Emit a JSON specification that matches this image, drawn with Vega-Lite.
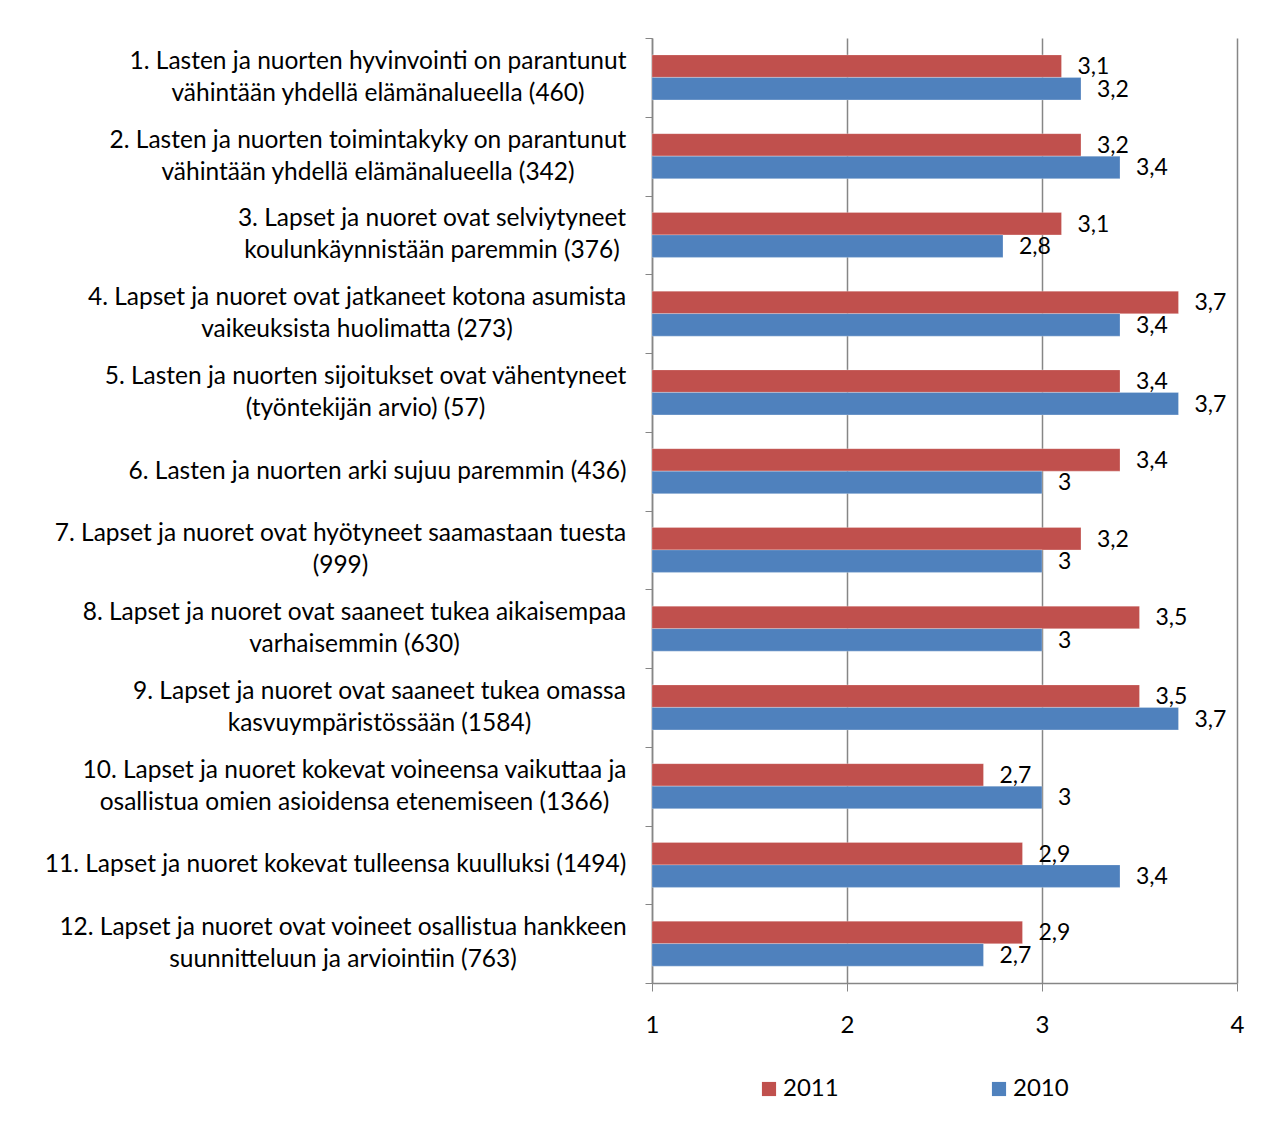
{
  "$schema": "https://vega.github.io/schema/vega-lite/v6.json",
  "autosize": {"type": "none"},
  "padding": {"left": 652, "top": 38, "right": 38, "bottom": 141},
  "width": 585,
  "height": 945,
  "background": "white",
  "config": {
    "locale": {"number": {"decimal": ",", "thousands": " ", "grouping": [3], "currency": ["", " €"]}},
    "font": "Lato",
    "view": {"stroke": null},
    "axis": {"labelFont": "Lato", "labelColor": "black", "domainColor": "#868686", "tickColor": "#868686", "gridColor": "#868686"}
  },
  "data": {
    "values": [
      {"cat": "1. Lasten ja nuorten hyvinvointi on parantunut|vähintään yhdellä elämänalueella (460)", "year": "2011", "value": 3.1},
      {"cat": "1. Lasten ja nuorten hyvinvointi on parantunut|vähintään yhdellä elämänalueella (460)", "year": "2010", "value": 3.2},
      {"cat": "2. Lasten ja nuorten toimintakyky on parantunut|vähintään yhdellä elämänalueella (342)", "year": "2011", "value": 3.2},
      {"cat": "2. Lasten ja nuorten toimintakyky on parantunut|vähintään yhdellä elämänalueella (342)", "year": "2010", "value": 3.4},
      {"cat": "3. Lapset ja nuoret ovat selviytyneet|koulunkäynnistään paremmin (376)", "year": "2011", "value": 3.1},
      {"cat": "3. Lapset ja nuoret ovat selviytyneet|koulunkäynnistään paremmin (376)", "year": "2010", "value": 2.8},
      {"cat": "4. Lapset ja nuoret ovat jatkaneet kotona asumista|vaikeuksista huolimatta (273)", "year": "2011", "value": 3.7},
      {"cat": "4. Lapset ja nuoret ovat jatkaneet kotona asumista|vaikeuksista huolimatta (273)", "year": "2010", "value": 3.4},
      {"cat": "5. Lasten ja nuorten sijoitukset ovat vähentyneet|(työntekijän arvio) (57)", "year": "2011", "value": 3.4},
      {"cat": "5. Lasten ja nuorten sijoitukset ovat vähentyneet|(työntekijän arvio) (57)", "year": "2010", "value": 3.7},
      {"cat": "6. Lasten ja nuorten arki sujuu paremmin (436)", "year": "2011", "value": 3.4},
      {"cat": "6. Lasten ja nuorten arki sujuu paremmin (436)", "year": "2010", "value": 3.0},
      {"cat": "7. Lapset ja nuoret ovat hyötyneet saamastaan tuesta|(999)", "year": "2011", "value": 3.2},
      {"cat": "7. Lapset ja nuoret ovat hyötyneet saamastaan tuesta|(999)", "year": "2010", "value": 3.0},
      {"cat": "8. Lapset ja nuoret ovat saaneet tukea aikaisempaa|varhaisemmin (630)", "year": "2011", "value": 3.5},
      {"cat": "8. Lapset ja nuoret ovat saaneet tukea aikaisempaa|varhaisemmin (630)", "year": "2010", "value": 3.0},
      {"cat": "9. Lapset ja nuoret ovat saaneet tukea omassa|kasvuympäristössään (1584)", "year": "2011", "value": 3.5},
      {"cat": "9. Lapset ja nuoret ovat saaneet tukea omassa|kasvuympäristössään (1584)", "year": "2010", "value": 3.7},
      {"cat": "10. Lapset ja nuoret kokevat voineensa vaikuttaa ja|osallistua omien asioidensa etenemiseen (1366)", "year": "2011", "value": 2.7},
      {"cat": "10. Lapset ja nuoret kokevat voineensa vaikuttaa ja|osallistua omien asioidensa etenemiseen (1366)", "year": "2010", "value": 3.0},
      {"cat": "11. Lapset ja nuoret kokevat tulleensa kuulluksi (1494)", "year": "2011", "value": 2.9},
      {"cat": "11. Lapset ja nuoret kokevat tulleensa kuulluksi (1494)", "year": "2010", "value": 3.4},
      {"cat": "12. Lapset ja nuoret ovat voineet osallistua hankkeen|suunnitteluun ja arviointiin (763)", "year": "2011", "value": 2.9},
      {"cat": "12. Lapset ja nuoret ovat voineet osallistua hankkeen|suunnitteluun ja arviointiin (763)", "year": "2010", "value": 2.7}
    ]
  },
  "encoding": {
    "y": {
      "field": "cat", "type": "nominal", "sort": null, "title": null,
      "scale": {"paddingInner": 0, "paddingOuter": 0},
      "axis": {
        "labelExpr": "datum.value ? split(datum.value, '|') : ''",
        "labelLimit": 700, "labelFontSize": 24.5, "labelLineHeight": 32,
        "tickSize": 7, "tickBand": "extent",
        "domainWidth": 1.5, "labelAlign": "center", "labelBaseline": "middle",
        "labelOffset": {"condition": {"test": "datum.value && indexof(datum.value, '|') >= 0", "value": -16}, "value": 0},
        "labelPadding": {
          "condition": [
            {"test": "datum.value && slice(datum.value, 0, 3) == '1. '", "value": 267.5},
            {"test": "datum.value && slice(datum.value, 0, 3) == '2. '", "value": 277.5},
            {"test": "datum.value && slice(datum.value, 0, 3) == '3. '", "value": 213.5},
            {"test": "datum.value && slice(datum.value, 0, 3) == '4. '", "value": 288.5},
            {"test": "datum.value && slice(datum.value, 0, 3) == '5. '", "value": 280},
            {"test": "datum.value && slice(datum.value, 0, 3) == '6. '", "value": 268},
            {"test": "datum.value && slice(datum.value, 0, 3) == '7. '", "value": 305},
            {"test": "datum.value && slice(datum.value, 0, 3) == '8. '", "value": 291},
            {"test": "datum.value && slice(datum.value, 0, 3) == '9. '", "value": 266},
            {"test": "datum.value && slice(datum.value, 0, 3) == '10.'", "value": 291},
            {"test": "datum.value && slice(datum.value, 0, 3) == '11.'", "value": 310},
            {"test": "datum.value && slice(datum.value, 0, 3) == '12.'", "value": 302.5}
          ],
          "value": 19
        }
      }
    },
    "yOffset": {"field": "year", "type": "nominal", "sort": ["2011", "2010"], "scale": {"paddingInner": 0, "paddingOuter": 0.75}},
    "x": {
      "field": "value", "type": "quantitative", "title": null,
      "scale": {"domain": [1, 4], "nice": false, "zero": false},
      "axis": {
        "values": [1, 2, 3, 4], "grid": true, "gridWidth": 1.5, "domainWidth": 1.5,
        "tickSize": 8, "labelPadding": 22, "labelFontSize": 24, "format": "d", "labelFlush": false
      }
    }
  },
  "layer": [
    {
      "mark": {"type": "bar", "stroke": "white", "strokeWidth": 0.5, "strokeOpacity": 0.5},
      "encoding": {
        "x2": {"datum": 1},
        "color": {
          "field": "year", "type": "nominal", "sort": ["2011", "2010"],
          "scale": {"domain": ["2011", "2010"], "range": ["#C0504D", "#4F81BD"]},
          "legend": {
            "title": null, "orient": "none", "direction": "horizontal",
            "legendX": 105, "legendY": 1039,
            "symbolType": "square", "symbolSize": 200, "symbolStrokeWidth": 0,
            "labelFontSize": 24, "labelFont": "Lato", "labelColor": "black",
            "labelOffset": 2, "columnPadding": 148
          }
        }
      }
    },
    {
      "mark": {"type": "text", "align": "left", "baseline": "middle", "dx": 16, "dy": 1, "fontSize": 23, "font": "Lato", "color": "black"},
      "encoding": {
        "text": {"field": "value", "type": "quantitative", "format": ".1~f"}
      }
    }
  ]
}
